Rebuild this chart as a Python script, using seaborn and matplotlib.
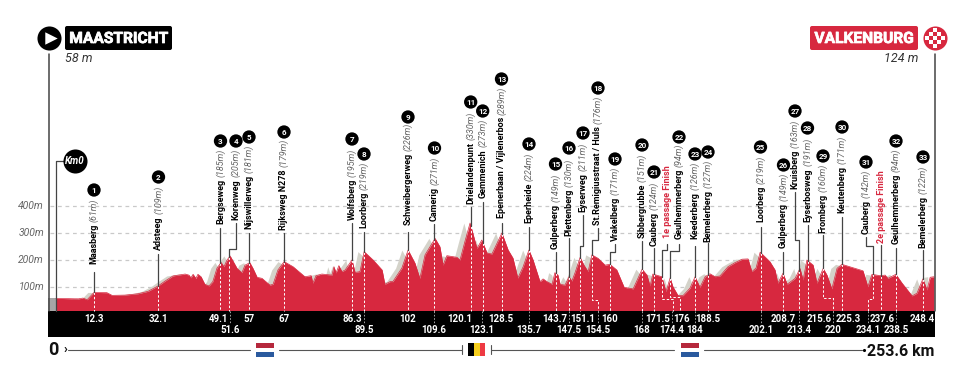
import numpy as np
import pandas as pd
import seaborn as sns
import matplotlib
matplotlib.use('Agg')
import matplotlib.pyplot as plt
import matplotlib.patheffects as pe
from matplotlib.patches import FancyBboxPatch
from matplotlib.transforms import Affine2D

# elevation profile, km / metres
profile_km = [0, 6.4, 7.8, 9.0, 9.8, 11.0, 14.7, 16.2, 19.9, 23.7, 26.6, 29.5, 31.5, 33.8, 37.3, 38.4, 39.0, 39.6, 40.4, 41.0,
              41.9, 43.0, 44.2, 45.3, 46.5, 47.7, 48.5, 49.4, 50.3, 52.3, 53.7, 54.6, 56.0, 56.9, 58.1, 59.5, 61.8, 62.7, 64.1, 65.9,
              68.5, 71.9, 73.7, 74.2, 75.1, 76.8, 79.7, 80.3, 80.9, 81.7, 82.6, 83.5, 85.5, 86.4, 87.8, 89.0, 91.6, 94.2, 95.0, 96.5,
              97.3, 99.9, 101.7, 103.7, 105.1, 106.6, 109.5, 110.9, 111.8, 112.9, 115.8, 116.7, 118.1, 119.6, 121.6, 123.0, 124.5, 125.9, 128.8, 130.6,
              132.0, 133.4, 134.9, 136.6, 137.8, 139.8, 140.7, 141.8, 143.3, 144.1, 145.0, 145.6, 147.0, 148.2, 149.0, 149.9, 151.4, 152.5, 153.7, 154.8,
              156.6, 158.6, 160.0, 162.0, 164.1, 166.7, 169.3, 170.7, 171.6, 172.4, 175.0, 176.2, 177.4, 178.2, 179.7, 181.1, 183.1, 184.6, 186.0, 187.5,
              188.9, 190.4, 191.8, 194.1, 196.1, 198.2, 199.9, 201.0, 202.2, 203.4, 206.2, 207.7, 208.5, 210.0, 211.2, 213.5, 214.9, 215.8, 216.9, 218.7,
              219.8, 221.6, 222.7, 224.1, 225.6, 227.0, 229.3, 233.1, 234.5, 235.7, 238.0, 239.5, 240.3, 242.6, 244.4, 247.3, 248.7, 250.4, 251.6, 252.5, 253.6]
profile_m = [58, 56, 59, 53, 64, 80, 79, 69, 70, 75, 84, 104, 122, 141, 148, 144, 134, 147, 132, 147,
             138, 110, 104, 120, 170, 191, 175, 200, 215, 169, 153, 181, 190, 169, 136, 132, 107, 110, 163, 194,
             175, 138, 142, 114, 142, 148, 144, 175, 152, 179, 157, 163, 200, 154, 157, 231, 200, 163, 110, 120,
             120, 170, 237, 188, 132, 219, 280, 249, 181, 216, 210, 200, 268, 337, 243, 274, 226, 222, 300, 237,
             207, 133, 174, 237, 200, 120, 130, 120, 110, 153, 144, 110, 107, 138, 122, 152, 210, 181, 157, 219,
             206, 181, 184, 163, 99, 93, 166, 144, 104, 148, 138, 83, 134, 101, 68, 68, 95, 138, 99, 138,
             149, 138, 141, 175, 190, 203, 204, 157, 170, 229, 194, 163, 114, 151, 110, 132, 169, 126, 200, 181,
             114, 169, 144, 93, 169, 184, 175, 160, 101, 147, 142, 144, 132, 147, 114, 67, 77, 130, 89, 136, 138]

climb_names = ['Maasberg', 'Adsteeg', 'Bergseweg', 'Korenweg', 'Nijswillerweg', 'Rijksweg N278', 'Wolfsberg', 'Loorberg',
               'Schweibergerweg', 'Camerig', 'Drielandenpunt', 'Gemmenich', 'Epenerbaan / Vijlenerbos', 'Eperheide',
               'Gulperberg', 'Plettenberg', 'Eyserweg', 'St.Remigiusstraat / Huls', 'Vrakelberg', 'Sibbergrubbe', 'Cauberg',
               '1e passage Finish', 'Geulhemmerberg', 'Keederberg', 'Bemelerberg', 'Loorberg', 'Gulperberg', 'Kruisberg',
               'Eyserbosweg', 'Fromberg', 'Keutenberg', 'Cauberg', '2e passage Finish', 'Geulhemmerberg', 'Bemelerberg']
climb_elev = [61, 109, 185, 205, 181, 179, 195, 219, 226, 271, 330, 273, 289, 224, 149, 130, 211, 176, 171, 151, 124,
              None, 94, 126, 127, 219, 149, 163, 191, 160, 171, 142, None, 94, 122]
climb_num = list(range(1, 22)) + [None] + list(range(22, 32)) + [None, 32, 33]
climb_pos = [11.0, 29.6, 47.5, 50.1, 55.7, 65.9, 85.5, 89.0, 101.7, 109.3, 119.8, 123.3, 128.7, 136.6, 144.3, 148.2, 151.5,
             154.8, 159.9, 169.3, 172.7, 175.0, 177.4, 184.6, 188.3, 203.5, 210.1, 214.6, 217.1, 221.6, 227.0, 236.0, 238.3,
             242.6, 250.4]

km_row1 = ['12.3', '32.1', '49.1', '57', '67', '86.3', '102', '120.1', '128.5', '143.7', '151.1', '160', '171.5', '176',
           '188.5', '208.7', '215.6', '225.3', '237.6', '248.4']
km_row2 = ['51.6', '89.5', '109.6', '123.1', '135.7', '147.5', '154.5', '168', '174.4', '184', '202.1', '213.4', '220',
           '234.1', '238.5']
y_ticks = [100, 200, 300, 400]

# layout, in pixels of the 970x375 picture
row1_x = [94, 158, 218, 249, 284, 352, 408, 460, 501, 555, 583, 610, 658, 682, 708, 783, 819, 848, 882, 922]
row2_x = [230, 364, 434, 482, 529, 569, 598, 642, 672, 695, 761, 799, 833, 868, 896]
label_x = [94, 158.5, 220.5, 236, 249, 284, 352, 364, 408, 434.5, 470.7, 482.7, 501.5, 529, 555.5, 569, 583, 598, 615, 642,
           654, 667, 679, 695, 708, 760.5, 783.5, 795, 807.5, 823, 842, 866, 881, 896, 923]
text_bottom = [264, 250, 224, 220, 229, 230, 220, 228, 225, 221, 204, 198, 218, 223, 249, 236, 212, 225, 241, 238, 246, 238,
               239, 239, 242, 222, 248, 189, 222, 233, 213, 234, 243, 244, 248]
leader_top = [272, 254, 228, 223, 233, 233, 223, 232, 232, 224, 207, 202, 223, 227, 252, 238, 215, 228, 244, 241, 248, 244,
              244, 246, 243, 227, 252, 192, 225, 235, 217, 237, 245, 248, 250]
circle_y = [190, 177, 141, 141, 137, 132, 139, 154, 117, 148, 102, 111, 79, 144, 164, 148, 133, 88, 159, 145, 172, None, 137,
            154, 152, 147, 165, 111, 128, 156, 127, 162, None, 141, 157]
elbow_y = {3: 249, 16: 246, 17: 240, 18: 252, 21: 250, 22: 251, 27: 240, 31: 246}
dash_elbow = {17: (300, 598), 21: (299, 673), 22: (297, 680), 29: (298, 833), 31: (299, 868)}

RED = '#D7283F'
SHADOW = '#D4D3CA'
DARK = '#444444'
GREY = '#666666'


def X(px):
    return (px - 56) / 3.462


def Y(py):
    return (314 - py) / 0.27


sns.set_theme(style='white')
plt.rcParams['font.family'] = ['Roboto', 'DejaVu Sans']

fig = plt.figure(figsize=(9.7, 3.75), dpi=100)
ax = fig.add_axes([0, 0, 1, 1])
pixels = Affine2D().scale(1, -1).translate(0, 375)

# gridlines + tick labels
ax.hlines(y_ticks, X(50), X(934), color='#C9C9C9', lw=0.9, ls=(0, (3, 3)), zorder=1)
for t in y_ticks:
    ax.text(X(44), t, f'{t}m', ha='right', va='center', fontsize=7.5, style='italic', color=GREY)

# profile with the grey climb shadow behind it
df = pd.DataFrame({'km': profile_km, 'elev': profile_m})
base = Y(311)
shadow_x = df['km'].to_numpy() - 1.8
keep = shadow_x >= 0
ax.fill_between(shadow_x[keep], base, df['elev'].to_numpy()[keep], color=SHADOW, lw=0, zorder=2)
ax.fill_between([X(48), 0], base, profile_m[0], color='#A6A6A6', lw=0, zorder=2)
ax.fill_between(df['km'], base, df['elev'], color=RED, lw=0, zorder=3)
sns.lineplot(data=df, x='km', y='elev', color=RED, lw=0.5, ax=ax, zorder=3, legend=False)

# black km band
ax.fill_between([X(48), X(935)], Y(337), base, color='black', lw=0, zorder=4)
ax.plot([X(48.5), X(48.5)], [Y(54), base], color=DARK, lw=1.1, zorder=5)
ax.plot([X(934.5), X(934.5)], [Y(54), base], color=DARK, lw=1.1, zorder=5)

ax.set_xlim(X(0), X(970))
ax.set_ylim(Y(375), Y(0))
ax.axis('off')

renderer = fig.canvas.get_renderer()
for i, name in enumerate(climb_names):
    pos = climb_pos[i]
    top = np.interp(pos, profile_km, profile_m)
    lx = X(label_x[i])
    # white dashes down to the band
    if i in dash_elbow:
        ey, bx = dash_elbow[i]
        ax.plot([pos, pos, X(bx), X(bx)], [top, Y(ey), Y(ey), base], color='white', lw=0.7, ls=(0, (2.5, 2)), zorder=4)
    else:
        ax.plot([pos, pos], [top, base], color='white', lw=0.7, ls=(0, (2.5, 2)), zorder=4)
    # leader
    if i in elbow_y:
        ax.plot([pos, pos, lx, lx], [top, Y(elbow_y[i]), Y(elbow_y[i]), Y(leader_top[i])], color=DARK, lw=0.9, zorder=5)
    else:
        ax.plot([pos, pos], [top, Y(leader_top[i])], color=DARK, lw=0.9, zorder=5)
    # name + height
    col = RED if climb_num[i] is None else 'black'
    t = ax.text(lx, Y(text_bottom[i]), name, rotation=90, ha='center', va='bottom', fontsize=6.5, fontweight='bold',
                color=col, zorder=6)
    if climb_elev[i] is not None:
        y1 = t.get_window_extent(renderer).y1
        ax.text(lx, Y(375 - y1 - 2), f'({climb_elev[i]}m)', rotation=90, ha='center', va='bottom', fontsize=6.5,
                style='italic', color=GREY, zorder=6)

# numbered climb circles
nums = pd.DataFrame({'x': [X(label_x[i]) for i in range(35) if climb_num[i]],
                     'y': [Y(circle_y[i]) for i in range(35) if climb_num[i]]})
sns.scatterplot(data=nums, x='x', y='y', s=92, color='black', edgecolor='none', ax=ax, zorder=6, legend=False)
ax.set_xlim(X(0), X(970))
ax.set_ylim(Y(375), Y(0))
ax.axis('off')
for i, n in enumerate(climb_num):
    if n:
        ax.text(X(label_x[i]), Y(circle_y[i] + 0.2), str(n), ha='center', va='center', fontsize=5.8, fontweight='bold',
                color='white', zorder=7)

# km labels in the band
for lab, x in zip(km_row1, row1_x):
    ax.text(X(x), Y(318.5), lab, ha='center', va='center', fontsize=7, fontweight='bold', color='white', zorder=6)
for lab, x in zip(km_row2, row2_x):
    ax.plot([X(x), X(x)], [base, Y(323)], color='#BBBBBB', lw=0.6, ls=(0, (2, 2)), zorder=5)
    ax.text(X(x), Y(330), lab, ha='center', va='center', fontsize=7, fontweight='bold', color='white', zorder=6)

# start / finish headers
ax.add_patch(FancyBboxPatch((65, 26), 107, 24, boxstyle='round,pad=0,rounding_size=2', fc='black', ec='none', transform=pixels, zorder=6))
ax.add_patch(FancyBboxPatch((810, 26), 108, 24, boxstyle='round,pad=0,rounding_size=2', fc=RED, ec='none', transform=pixels, zorder=6))
heavy = [pe.withStroke(linewidth=0.5, foreground='white')]
ax.text(X(118.5), Y(38.5), 'MAASTRICHT', ha='center', va='center', fontsize=11.2, fontweight='bold', color='white', zorder=7, path_effects=heavy)
ax.text(X(864), Y(38.5), 'VALKENBURG', ha='center', va='center', fontsize=11.2, fontweight='bold', color='white', zorder=7, path_effects=heavy)
ax.scatter([X(49)], [Y(38)], s=300, color='black', lw=0, zorder=6)
ax.scatter([X(50.5)], [Y(38)], s=80, marker='>', color='white', lw=0, zorder=7)
ax.scatter([X(935)], [Y(38)], s=300, color=RED, lw=0, zorder=6)
for cx in np.arange(-8, 9, 4):
    for cy in np.arange(-8, 9, 4):
        if (cx + cy) % 8 == 0 and cx ** 2 + cy ** 2 < 100:
            ax.scatter([X(935 + cx)], [Y(38 + cy)], s=11, marker='s', color='white', lw=0, zorder=7)
ax.text(X(65), Y(59), '58 m', ha='left', va='center', fontsize=9, style='italic', color='#333333')
ax.text(X(918), Y(59), '124 m', ha='right', va='center', fontsize=9, style='italic', color='#333333')

# km0 marker
ax.plot([X(56), X(56), X(64)], [base, Y(161), Y(161)], color=DARK, lw=0.9, zorder=5)
ax.scatter([X(75)], [Y(161.5)], s=300, color='black', lw=0, zorder=6)
ax.text(X(75), Y(161.5), 'Km0', ha='center', va='center', fontsize=7, fontweight='bold', style='italic', color='white', zorder=7)

# distance bar with flags
segments = [(68, 250), (279, 462), (491, 674), (704, 862)]
for a, b in segments:
    ax.plot([X(a), X(b)], [Y(349.5), Y(349.5)], color='#555555', lw=0.8)
ax.plot([X(462), X(462)], [Y(345), Y(354)], color='#555555', lw=0.8)
ax.plot([X(491), X(491)], [Y(345), Y(354)], color='#555555', lw=0.8)
ax.scatter([X(864)], [Y(349.5)], s=5, color='black', lw=0)
ax.text(X(53), Y(350), '0', ha='center', va='center', fontsize=13, fontweight='bold', color='#111111')
ax.text(X(65), Y(349), '›', ha='center', va='center', fontsize=9, fontweight='bold', color='#111111')
ax.text(X(934), Y(351), '253.6 km', ha='right', va='center', fontsize=11.5, fontweight='bold', color='#111111')
for x0 in (256, 681):
    for j, c in enumerate(['#B5283C', 'white', '#2A5A9E']):
        ax.add_patch(plt.Rectangle((x0, 343 + j * 4.6), 17.5, 4.6, fc=c, ec='none', transform=pixels))
for j, c in enumerate(['black', '#F6CF1E', '#EE3A43']):
    ax.add_patch(plt.Rectangle((468 + j * 5.8, 343), 5.8, 13, fc=c, ec='none', transform=pixels))

fig.savefig('out.png', dpi=100)
